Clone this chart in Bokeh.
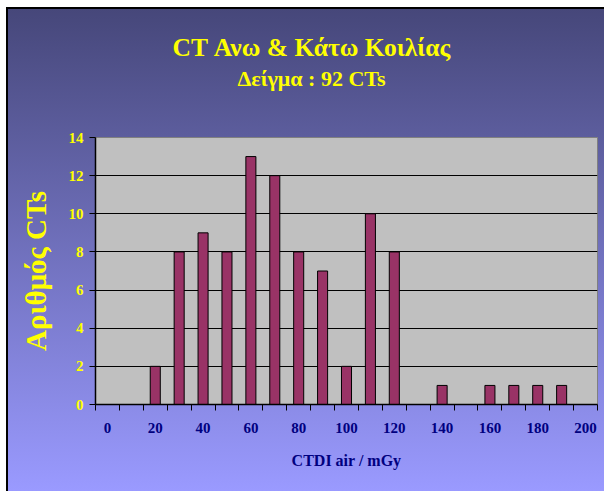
from bokeh.plotting import figure
from bokeh.models import FixedTicker, Title, ColumnDataSource, Range1d
from bokeh.embed import file_html
from bokeh.resources import INLINE

title_text = "CT Ανω & Κάτω Κοιλίας"
subtitle_text = "Δείγμα : 92 CTs"
x_label = "CTDI air / mGy"
y_label = "Αριθμός CTs"

ctdi = [0, 10, 20, 30, 40, 50, 60, 70, 80, 90, 100, 110, 120, 130, 140, 150, 160, 170, 180, 190, 200]
counts = [0, 0, 2, 8, 9, 8, 13, 12, 8, 7, 2, 10, 8, 0, 1, 0, 1, 1, 1, 1, 0]
x_tick_values = [0, 20, 40, 60, 80, 100, 120, 140, 160, 180, 200]
y_tick_values = [0, 2, 4, 6, 8, 10, 12, 14]

FONT = "Liberation Serif"

src = ColumnDataSource(data=dict(x=ctdi, y=counts))

p = figure(width=604, height=491, output_backend="svg", toolbar_location=None,
           x_range=Range1d(-5, 205), y_range=Range1d(0, 14),
           min_border_left=95, min_border_right=7, min_border_top=137, min_border_bottom=87)
p.border_fill_color = None
p.background_fill_color = "#c0c0c0"
p.outline_line_color = "#808080"
p.styles = {
    "background": ("linear-gradient(#000, #000) 6px 7px / 2px 100% no-repeat, "
                   "linear-gradient(#000, #000) 6px 7px / 100% 2px no-repeat, "
                   "linear-gradient(to bottom, #46477a, #9a9aff) 8px 9px / 100% 482px no-repeat, "
                   "#ffffff")
}

p.vbar(x="x", top="y", width=4.2, source=src, fill_color="#993366",
       line_color="#000000", line_width=1)

# x axis
p.xaxis.ticker = FixedTicker(ticks=x_tick_values,
                             minor_ticks=[c - 5 for c in ctdi] + [205])
p.xaxis.major_tick_line_color = None
p.xaxis.minor_tick_line_color = "#000000"
p.xaxis.minor_tick_out = 6
p.xaxis.minor_tick_in = 0
p.xaxis.axis_line_color = "#000000"
p.xaxis.axis_line_width = 1.5
p.xaxis.major_label_text_font = FONT
p.xaxis.major_label_text_font_style = "bold"
p.xaxis.major_label_text_font_size = "15px"
p.xaxis.major_label_text_color = "#000080"
p.xaxis.major_label_standoff = 12
p.xaxis.axis_label = x_label
p.xaxis.axis_label_text_font = FONT
p.xaxis.axis_label_text_font_style = "bold"
p.xaxis.axis_label_text_font_size = "16px"
p.xaxis.axis_label_text_color = "#000080"
p.xaxis.axis_label_standoff = 16

# y axis
p.yaxis.ticker = FixedTicker(ticks=y_tick_values)
p.yaxis.major_tick_out = 6
p.yaxis.major_tick_in = 0
p.yaxis.minor_tick_line_color = None
p.yaxis.axis_line_color = "#000000"
p.yaxis.axis_line_width = 1.5
p.yaxis.major_label_text_font = FONT
p.yaxis.major_label_text_font_style = "bold"
p.yaxis.major_label_text_font_size = "15px"
p.yaxis.major_label_text_color = "#ffff00"
p.yaxis.major_label_standoff = 6
p.yaxis.axis_label = y_label
p.yaxis.axis_label_text_font = FONT
p.yaxis.axis_label_text_font_style = "bold"
p.yaxis.axis_label_text_font_size = "29px"
p.yaxis.axis_label_text_color = "#ffff00"
p.yaxis.axis_label_standoff = 14

p.xgrid.grid_line_color = None
p.ygrid.ticker = FixedTicker(ticks=y_tick_values)
p.ygrid.grid_line_color = "#000000"
p.ygrid.grid_line_width = 1

# spacer nearest the frame, then the subtitle, then the main title
p.add_layout(Title(text=" ", standoff=34, text_font=FONT, text_font_size="10px",
                   text_color="#ffff00"), "above")
p.add_layout(Title(text=subtitle_text, align="left", offset=142, standoff=0,
                   text_font=FONT, text_font_style="bold", text_font_size="22px",
                   text_color="#ffff00"), "above")
p.add_layout(Title(text=title_text, align="left", offset=77, standoff=3,
                   text_font=FONT, text_font_style="bold", text_font_size="25.5px",
                   text_color="#ffff00"), "above")

open("out.html", "w").write(file_html(p, INLINE))
